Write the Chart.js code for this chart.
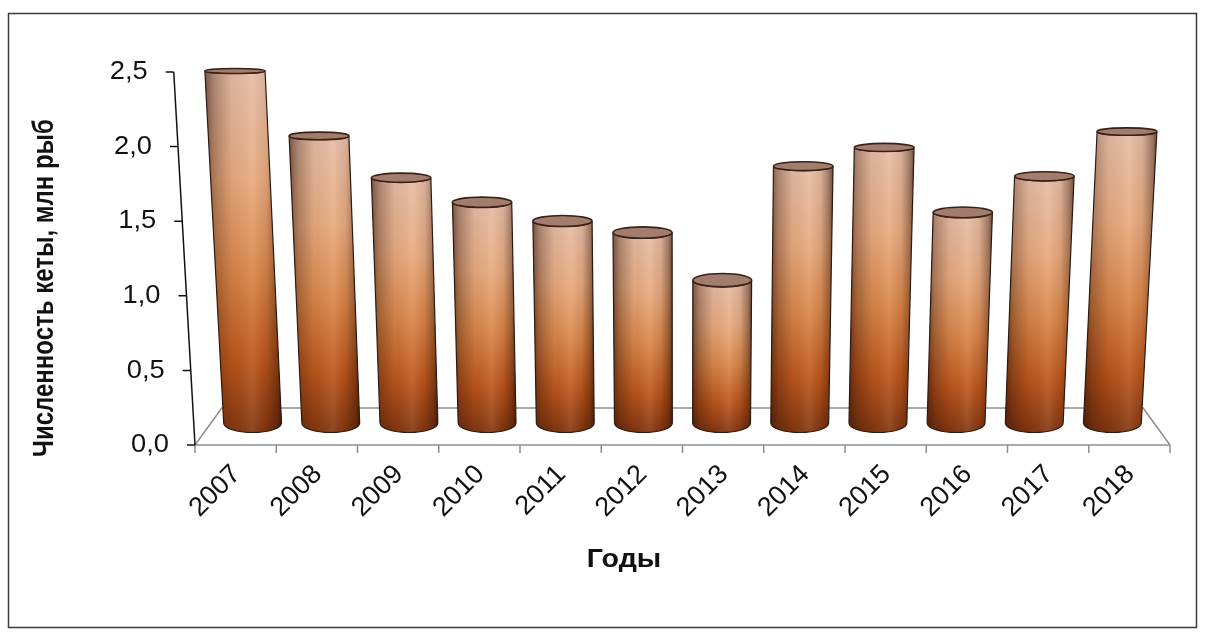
<!DOCTYPE html>
<html>
<head>
<meta charset="utf-8">
<script src="https://cdn.jsdelivr.net/npm/chart.js@4.4.1/dist/chart.umd.min.js"></script>
<style>
  html, body { margin: 0; padding: 0; background: #fff; }
  #wrap { width: 1205px; height: 635px; position: relative; }
</style>
</head>
<body>
<div id="wrap"><canvas id="c" width="1205" height="635"></canvas></div>
<script>
// Численность кеты по годам, млн рыб
const years = ['2007', '2008', '2009', '2010', '2011', '2012', '2013', '2014', '2015', '2016', '2017', '2018'];
const chumMillions = [2.44, 1.99, 1.70, 1.53, 1.40, 1.32, 0.99, 1.78, 1.91, 1.46, 1.71, 2.02];
const yTickValues = [0, 0.5, 1.0, 1.5, 2.0, 2.5];
const yAxisTitle = 'Численность кеты, млн рыб';
const xAxisTitle = 'Годы';

const FONT = '"Liberation Sans", Arial, sans-serif';

// Perspective settings for the pseudo-3D floor and cylinders
const VIEW = {
  vanishY: 9000,      // vertical lines converge towards this y (camera looks down)
  horizonY: -55,      // ellipses flatten to zero here
  ellipseK: 0.0199,   // ellipse half-height per pixel below horizon
  floorDepth: 37,     // vertical size of the floor
  floorBackK: 0.945,  // horizontal shrink of the back floor edge
  barDepth: 22,       // bar base sits this far behind the front edge
  barK: 0.962,        // horizontal shrink at the bar row
  barHeightK: 0.967,  // vertical shrink at the bar row
  barRadius: 0.37     // cylinder radius as a share of the category width
};

const cylinderPlugin = {
  id: 'cylinders3d',
  beforeDatasetsDraw(chart) {
    const ctx = chart.ctx;
    const a = chart.chartArea;
    const ys = chart.scales.y;
    const cx = (a.left + a.right) / 2;
    const y0 = ys.getPixelForValue(0);
    const yBack = y0 - VIEW.floorDepth;
    const bl = cx + (a.left - cx) * VIEW.floorBackK;
    const br = cx + (a.right - cx) * VIEW.floorBackK;

    ctx.save();
    // frame around the figure
    ctx.strokeStyle = '#3a3a3a';
    ctx.lineWidth = 1.5;
    ctx.strokeRect(8.5, 13.5, 1188, 614);

    // floor: back edge and side edges
    ctx.strokeStyle = '#8e8e8e';
    ctx.lineWidth = 1.5;
    ctx.beginPath();
    ctx.moveTo(a.left, y0); ctx.lineTo(bl, yBack);
    ctx.lineTo(br, yBack); ctx.lineTo(a.right, y0);
    ctx.stroke();
    ctx.restore();
  },
  afterDatasetsDraw(chart) {
    const ctx = chart.ctx;
    const a = chart.chartArea;
    const xs = chart.scales.x;
    const ys = chart.scales.y;
    const meta = chart.getDatasetMeta(0);
    const values = chart.data.datasets[0].data;
    const cx = (a.left + a.right) / 2;
    const y0 = ys.getPixelForValue(0);
    const catW = xs.getPixelForValue(1) - xs.getPixelForValue(0);
    const yb = y0 - VIEW.barDepth;
    const grow = (y, yRef) => (VIEW.vanishY - y) / (VIEW.vanishY - yRef);
    const ry = (y) => VIEW.ellipseK * (y - VIEW.horizonY);

    ctx.save();
    meta.data.forEach((bar, i) => {
      const xf = bar.x;
      const v = values[i];
      const yt = yb - (y0 - ys.getPixelForValue(v)) * VIEW.barHeightK;
      const rx0 = catW * VIEW.barK * VIEW.barRadius;
      const cxB = cx + (xf - cx) * VIEW.barK;
      const gT = grow(yt, yb);
      const cxT = cx + (xf - cx) * VIEW.barK * gT;
      const rxB = rx0, rxT = rx0 * gT;
      const ryB = ry(yb), ryT = ry(yt);

      // body outline
      const body = new Path2D();
      body.moveTo(cxT - rxT, yt);
      body.lineTo(cxB - rxB, yb);
      body.ellipse(cxB, yb, rxB, ryB, 0, Math.PI, 0, true);
      body.lineTo(cxT + rxT, yt);
      body.ellipse(cxT, yt, rxT, ryT, 0, 0, Math.PI, false);
      body.closePath();

      // vertical colour ramp
      const gv = ctx.createLinearGradient(0, yt, 0, yb + ryB);
      gv.addColorStop(0, '#e6bea8');
      gv.addColorStop(0.3, '#e8ab80');
      gv.addColorStop(0.55, '#da874a');
      gv.addColorStop(0.8, '#bb551c');
      gv.addColorStop(1, '#803510');
      ctx.fillStyle = gv;
      ctx.fill(body);

      // round shading across the cylinder
      const left = Math.min(cxT - rxT, cxB - rxB);
      const right = Math.max(cxT + rxT, cxB + rxB);
      const gh = ctx.createLinearGradient(left, 0, right, 0);
      gh.addColorStop(0, 'rgba(45,15,3,0.6)');
      gh.addColorStop(0.12, 'rgba(45,15,3,0.32)');
      gh.addColorStop(0.35, 'rgba(45,15,3,0.06)');
      gh.addColorStop(0.62, 'rgba(255,235,215,0.10)');
      gh.addColorStop(0.8, 'rgba(45,15,3,0.08)');
      gh.addColorStop(0.94, 'rgba(45,15,3,0.4)');
      gh.addColorStop(1, 'rgba(35,10,2,0.65)');
      ctx.fillStyle = gh;
      ctx.fill(body);

      ctx.strokeStyle = '#2e1a10';
      ctx.lineWidth = 1.2;
      ctx.stroke(body);

      // top cap
      ctx.beginPath();
      ctx.ellipse(cxT, yt, rxT, ryT, 0, 0, Math.PI * 2);
      ctx.fillStyle = '#a27d6e';
      ctx.fill();
      ctx.lineWidth = 1.6;
      ctx.strokeStyle = '#3a2015';
      ctx.stroke();
    });

    // front floor edge with category ticks
    ctx.strokeStyle = '#8e8e8e';
    ctx.lineWidth = 1.5;
    ctx.beginPath();
    ctx.moveTo(a.left, y0); ctx.lineTo(a.right, y0);
    for (let k = 0; k <= years.length; k++) {
      const x = xs.getPixelForValue(0) - catW / 2 + k * catW;
      ctx.moveTo(x, y0); ctx.lineTo(x, y0 + 8);
    }
    ctx.stroke();

    // value axis (leans with the perspective)
    const ax = (y) => cx + (a.left - cx) * grow(y, y0);
    const yTop = ys.getPixelForValue(ys.max);
    ctx.strokeStyle = '#111';
    ctx.lineWidth = 1.5;
    ctx.beginPath();
    ctx.moveTo(ax(y0), y0); ctx.lineTo(ax(yTop), yTop);
    yTickValues.forEach(t => {
      const y = ys.getPixelForValue(t);
      ctx.moveTo(ax(y) - 8, y); ctx.lineTo(ax(y), y);
    });
    ctx.stroke();

    // value tick labels
    ctx.fillStyle = '#111';
    ctx.textAlign = 'right';
    ctx.textBaseline = 'middle';
    ctx.font = '26px ' + FONT;
    yTickValues.forEach(t => {
      const y = ys.getPixelForValue(t);
      ctx.save();
      ctx.translate(ax(y) - 26, y);
      ctx.scale(1.05, 1);
      ctx.fillText(t.toFixed(1).replace('.', ','), 0, 0);
      ctx.restore();
    });

    // year labels
    ctx.font = '27px ' + FONT;
    years.forEach((lab, i) => {
      ctx.save();
      ctx.translate(xs.getPixelForValue(i) + 1, y0 + 25);
      ctx.rotate(-Math.PI / 4);
      ctx.textAlign = 'right';
      ctx.textBaseline = 'middle';
      ctx.fillText(lab, 0, 0);
      ctx.restore();
    });

    // axis titles
    ctx.textAlign = 'center';
    ctx.textBaseline = 'middle';
    ctx.save();
    ctx.translate(624, 560);
    ctx.scale(1.1, 1);
    ctx.font = 'bold 26px ' + FONT;
    ctx.fillText(xAxisTitle, 0, 0);
    ctx.restore();

    ctx.save();
    ctx.translate(45, 288);
    ctx.rotate(-Math.PI / 2);
    ctx.scale(1, 1.2);
    ctx.font = 'bold 24px ' + FONT;
    ctx.fillText(yAxisTitle, 0, 0);
    ctx.restore();

    ctx.restore();
  }
};

new Chart(document.getElementById('c'), {
  type: 'bar',
  data: {
    labels: years,
    datasets: [{
      data: chumMillions,
      backgroundColor: 'rgba(0,0,0,0)',
      borderWidth: 0
    }]
  },
  options: {
    responsive: false,
    devicePixelRatio: 1,
    animation: false,
    layout: { padding: { left: 195, right: 35, top: 72, bottom: 190 } },
    plugins: { legend: { display: false }, tooltip: { enabled: false } },
    scales: {
      x: { display: false },
      y: { display: false, min: 0, max: 2.5 }
    }
  },
  plugins: [cylinderPlugin]
});
</script>
</body>
</html>
